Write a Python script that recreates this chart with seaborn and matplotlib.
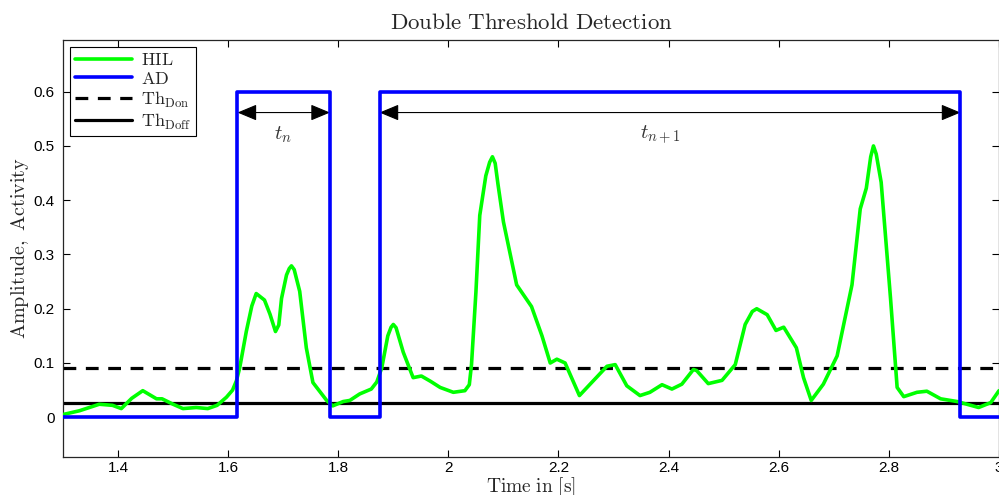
import numpy as np
import pandas as pd
import matplotlib
matplotlib.use("Agg")
import matplotlib.pyplot as plt
from matplotlib.ticker import FuncFormatter
import seaborn as sns

# HIL curve
hil_t = [1.300, 1.330, 1.366, 1.390, 1.406, 1.425, 1.445, 1.460, 1.470, 1.480, 1.500,
         1.518, 1.542, 1.563, 1.580, 1.597, 1.608, 1.615, 1.621, 1.633, 1.643, 1.651,
         1.666, 1.676, 1.686, 1.692, 1.697, 1.706, 1.711, 1.715, 1.720, 1.730, 1.742,
         1.754, 1.779, 1.790, 1.809, 1.821, 1.839, 1.860, 1.870, 1.879, 1.890, 1.896,
         1.900, 1.905, 1.918, 1.936, 1.951, 1.968, 1.985, 2.009, 2.030, 2.038, 2.042,
         2.050, 2.057, 2.068, 2.075, 2.080, 2.085, 2.090, 2.100, 2.124, 2.151, 2.170,
         2.185, 2.197, 2.212, 2.238, 2.263, 2.288, 2.303, 2.324, 2.348, 2.366, 2.388,
         2.406, 2.424, 2.445, 2.451, 2.472, 2.497, 2.521, 2.539, 2.552, 2.560, 2.579,
         2.595, 2.609, 2.632, 2.645, 2.659, 2.681, 2.706, 2.733, 2.748, 2.759, 2.767,
         2.772, 2.777, 2.786, 2.803, 2.815, 2.827, 2.851, 2.869, 2.894, 2.924, 2.963,
         2.985, 3.000]
hil_v = [0.005, 0.012, 0.024, 0.022, 0.016, 0.035, 0.049, 0.040, 0.034, 0.034, 0.024,
         0.016, 0.018, 0.016, 0.022, 0.037, 0.050, 0.067, 0.091, 0.158, 0.205, 0.228,
         0.216, 0.190, 0.158, 0.170, 0.219, 0.262, 0.274, 0.279, 0.272, 0.232, 0.128,
         0.064, 0.031, 0.021, 0.029, 0.031, 0.043, 0.052, 0.065, 0.091, 0.150, 0.166,
         0.171, 0.165, 0.120, 0.073, 0.076, 0.066, 0.055, 0.046, 0.049, 0.060, 0.097,
         0.230, 0.372, 0.445, 0.470, 0.480, 0.468, 0.430, 0.360, 0.244, 0.204, 0.150,
         0.100, 0.107, 0.100, 0.040, 0.067, 0.094, 0.097, 0.058, 0.040, 0.046, 0.060,
         0.052, 0.061, 0.088, 0.086, 0.062, 0.068, 0.097, 0.171, 0.195, 0.200, 0.189,
         0.160, 0.166, 0.128, 0.073, 0.031, 0.061, 0.113, 0.244, 0.384, 0.422, 0.480,
         0.500, 0.485, 0.433, 0.219, 0.055, 0.038, 0.046, 0.048, 0.034, 0.029, 0.018,
         0.027, 0.049]

# activity detection (step signal)
ad_t = [1.300, 1.617, 1.785, 1.875, 2.930, 3.000]
ad_v = [0.0, 0.6, 0.0, 0.6, 0.0, 0.0]

th_on = 0.09
th_off = 0.027

sns.set_style("ticks")
plt.rcParams['font.family'] = ['Liberation Sans Narrow', 'Liberation Sans', 'DejaVu Sans']
plt.rcParams['mathtext.fontset'] = 'cm'

fig = plt.figure(figsize=(9.99, 4.95), dpi=100)
ax = fig.add_axes([0.063, 0.077, 0.937, 0.842])

hil = pd.DataFrame({'t': hil_t, 'v': hil_v})
ad = pd.DataFrame({'t': ad_t, 'v': ad_v})

sns.lineplot(data=hil, x='t', y='v', ax=ax, color='#00ff00', lw=2.6,
             estimator=None, sort=False, label=r'$\mathrm{HIL}$', zorder=3,
             solid_joinstyle='round')
sns.lineplot(data=ad, x='t', y='v', ax=ax, color='#0000ff', lw=2.6,
             estimator=None, sort=False, drawstyle='steps-post',
             label=r'$\mathrm{AD}$', zorder=4)
ax.axhline(th_on, color='black', lw=2.3, ls=(0, (4, 3)), label=r'$\mathrm{Th_{Don}}$', zorder=2)
ax.axhline(th_off, color='black', lw=2.3, label=r'$\mathrm{Th_{Doff}}$', zorder=2)

# duration arrows
for a, b, txt, tx in [(1.617, 1.785, r'$t_n$', 1.70), (1.875, 2.930, r'$t_{n+1}$', 2.385)]:
    ax.annotate('', xy=(a, 0.5615), xytext=(b, 0.5615),
                arrowprops=dict(arrowstyle='<|-|>,head_length=0.6,head_width=0.25',
                                color='black', lw=0.8,
                                mutation_scale=20, shrinkA=0, shrinkB=0))
    ax.text(tx, 0.52, txt, fontsize=15, ha='center', va='center', color='#333333')

ax.set_xlim(1.3, 3.0)
ax.set_ylim(-0.073, 0.695)
ax.set_xticks([1.4, 1.6, 1.8, 2.0, 2.2, 2.4, 2.6, 2.8, 3.0])
ax.set_yticks([0, 0.1, 0.2, 0.3, 0.4, 0.5, 0.6])
fmt = FuncFormatter(lambda v, p: '%g' % round(v, 2))
ax.xaxis.set_major_formatter(fmt)
ax.yaxis.set_major_formatter(fmt)
ax.tick_params(direction='in', length=5, width=0.8, top=True, right=True,
               labelsize=11, colors='black')
ax.tick_params(axis='x', pad=3)
ax.tick_params(axis='y', pad=6)
for s in ax.spines.values():
    s.set_visible(True)
    s.set_linewidth(0.9)

ax.set_title(r'$\mathrm{Double\ Threshold\ Detection}$', fontsize=16.5, pad=8)
ax.set_xlabel(r'$\mathrm{Time\ in\ [s]}$', fontsize=14, labelpad=0)
ax.set_ylabel(r'$\mathrm{Amplitude,\ Activity}$', fontsize=14.5, labelpad=2)

leg = ax.legend(loc='upper left', fontsize=13, frameon=True, fancybox=False,
                edgecolor='black', framealpha=1, handlelength=3.2,
                borderpad=0.25, labelspacing=0.1, handletextpad=0.5,
                borderaxespad=0.4)
leg.get_frame().set_linewidth(0.8)

fig.savefig('out.png', dpi=100)
